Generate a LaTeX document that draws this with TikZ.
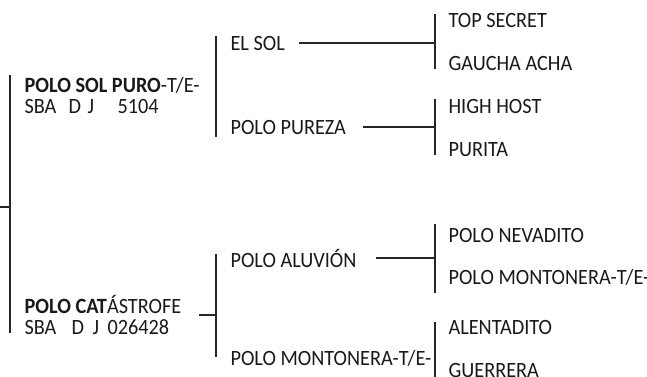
\documentclass[tikz,border=0pt]{standalone}
\usepackage{fontspec}
\setmainfont[FakeStretch=0.93]{Carlito}

\begin{document}
\begin{tikzpicture}[x=0.5pt, y=-0.5pt, line width=0.55pt, black!85,
  every node/.style={anchor=base west, inner sep=0pt, text=black!90,
    font=\fontsize{10.9}{13}\selectfont}]
        \useasboundingbox (0,0) rectangle (647,376);
        % first level
        \node (psp) at (24,92) {\textbf{POLO SOL PURO}-T/E-};
        \node (pspreg) at (24,113) {\makebox[22pt][l]{SBA}\makebox[9.5pt][l]{D}\makebox[15pt][l]{J}5104};
        \node (pc) at (24,313) {\textbf{POLO CAT}ÁSTROFE};
        \node (pcreg) at (24,334) {\makebox[23.5pt][l]{SBA}\makebox[10.5pt][l]{D}\makebox[7.5pt][l]{J}026428};
        % second level
        \node (elsol) at (230,50) {EL SOL};
        \node (pureza) at (230,134) {POLO PUREZA};
        \node (aluvion) at (230,267) {POLO ALUVIÓN};
        \node (montonera) at (230,365) {POLO MONTONERA-T/E-};
        % third level
        \node (topsecret) at (448,27.5) {TOP SECRET};
        \node (gaucha) at (448,70) {GAUCHA ACHA};
        \node (highhost) at (448,113) {HIGH HOST};
        \node (purita) at (448,156) {PURITA};
        \node (nevadito) at (448,242) {POLO NEVADITO};
        \node (montonera2) at (448,284) {POLO MONTONERA-T/E-};
        \node (alentadito) at (448,334) {ALENTADITO};
        \node (guerrera) at (448,377) {GUERRERA};
        \coordinate (root) at (0,207);
        \coordinate (rootbar) at (10,207);
        \coordinate (pcstub) at (199,315);
        \coordinate (bar2) at (216,315);
        \coordinate (bar3) at ([xshift=-6.5pt]topsecret.base west);
        \draw (root) -- (rootbar);
        \draw ([xshift=-7pt,yshift=8.5pt]psp.base west) -- ([xshift=-7pt,yshift=0.5pt]pcreg.base west);
        \draw ([xshift=-7pt,yshift=7pt]elsol.base west) -- ([xshift=-7pt,yshift=-1.5pt]pureza.base west);
        \draw ([xshift=-7pt,yshift=6.5pt]aluvion.base west) -- ([xshift=-7pt,yshift=4pt]montonera.base west);
        \draw (pcstub) -- (bar2);
        \draw ([xshift=7pt]elsol.east) -- (elsol.east -| bar3);
        \draw ([xshift=8.5pt]pureza.east) -- (pureza.east -| bar3);
        \draw ([xshift=9.5pt]aluvion.east) -- (aluvion.east -| bar3);
        \draw ([xshift=-6.5pt,yshift=6.75pt]topsecret.base west) -- ([xshift=-6.5pt,yshift=0.5pt]gaucha.base west);
        \draw ([xshift=-6.5pt,yshift=7pt]highhost.base west) -- ([xshift=-6.5pt,yshift=0.5pt]purita.base west);
        \draw ([xshift=-6.5pt,yshift=9pt]nevadito.base west) -- ([xshift=-6.5pt,yshift=-4.5pt]montonera2.base west);
        \draw ([xshift=-6.5pt,yshift=6pt]alentadito.base west) -- ([xshift=-6.5pt,yshift=-3pt]guerrera.base west);
      \end{tikzpicture}
\end{document}
